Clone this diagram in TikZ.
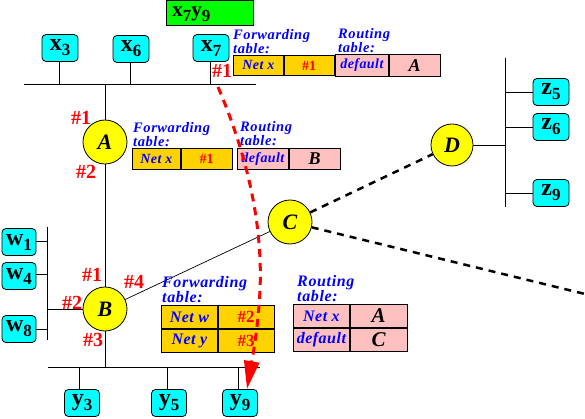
\documentclass[tikz,border=0pt]{standalone}
\usepackage{fontspec}
\setmainfont{Liberation Serif}
\newfontfamily\tfont{Liberation Serif}[LetterSpace=4]
\newfontfamily\cfont{Liberation Serif}[LetterSpace=3]
\usetikzlibrary{arrows.meta}
\definecolor{hostc}{HTML}{00FFFF}
\definecolor{rtrc}{HTML}{FFFF00}
\definecolor{goldc}{HTML}{FFD200}
\definecolor{pinkc}{HTML}{FFC0C0}
\definecolor{greenc}{HTML}{00FF00}
\definecolor{blu}{HTML}{0000FF}
\definecolor{redc}{HTML}{FF0000}
\newcommand\hl[2]{#1\raisebox{-5pt}{\fontsize{17}{17}\selectfont #2}}
\begin{document}
\begin{tikzpicture}[x=1pt,y=-1pt,
 host/.style={draw, fill=hostc, rounded corners=4pt, minimum width=36pt, minimum height=27pt, inner sep=0pt, font=\fontsize{24}{24}\selectfont\bfseries, line width=0.8pt},
 rtr/.style={circle, draw, fill=rtrc, minimum size=44pt, inner sep=0pt, line width=0.8pt, font=\fontsize{22}{22}\selectfont\bfseries\itshape},
 port/.style={text=redc, font=\fontsize{20}{20}\selectfont\bfseries, inner sep=0pt},
 ttl/.style={text=blu, font=\tfont\fontsize{14.5}{12.5}\selectfont\bfseries\itshape, align=left, anchor=north west, inner sep=0pt},
 bigttl/.style={ttl, font=\tfont\fontsize{16}{13.5}\selectfont\bfseries\itshape},
 fcell/.style={draw, fill=goldc, anchor=north west, inner sep=0pt, line width=0.8pt},
 rcell/.style={draw, fill=pinkc, anchor=north west, inner sep=0pt, line width=0.8pt},
 net/.style={text=blu, font=\cfont\fontsize{14}{14}\selectfont\bfseries\itshape},
 bignet/.style={text=blu, font=\cfont\fontsize{16}{16}\selectfont\bfseries\itshape},
 num/.style={text=redc, font=\fontsize{14}{14}\selectfont\bfseries},
 bignum/.style={text=redc, font=\fontsize{17}{17}\selectfont\bfseries},
 hop/.style={text=black, font=\fontsize{18}{18}\selectfont\bfseries\itshape},
 bighop/.style={text=black, font=\fontsize{21}{21}\selectfont\bfseries\itshape},
 wire/.style={line width=0.9pt},
 bdash/.style={line width=2.5pt, dash pattern=on 7pt off 6pt},
 rdash/.style={draw=redc, line width=3pt, dash pattern=on 8pt off 6pt}
]
\useasboundingbox (0,0) rectangle (585,419);

% source/destination box
\node[draw, fill=greenc, anchor=north west, minimum height=25pt, text width=75pt, text height=12.5pt, text depth=6.5pt, inner xsep=6pt, inner ysep=0pt, align=left, line width=0.8pt, font=\fontsize{21}{21}\selectfont\bfseries] (sd) at (166,0.5) {\hl{x}{7}\hl{y}{9}};

% hosts
\node[host] (x3) at (60,48) {\hl{x}{3}};
\node[host] (x6) at (131,49) {\hl{x}{6}};
\node[host] (x7) at (211,48) {\hl{x}{7}};
\node[host, minimum width=34pt] (w1) at (19,242) {\hl{w}{1}};
\node[host, minimum width=34pt] (w4) at (19,276) {\hl{w}{4}};
\node[host, minimum width=34pt] (w8) at (19,329) {\hl{w}{8}};
\node[host, minimum width=35pt] (y3) at (82,403) {\hl{y}{3}};
\node[host, minimum width=35pt] (y5) at (169,403) {\hl{y}{5}};
\node[host, minimum width=35pt] (y9) at (240,403) {\hl{y}{9}};
\node[host] (z5) at (551,92) {\hl{z}{5}};
\node[host] (z6) at (551,127) {\hl{z}{6}};
\node[host] (z9) at (551,193) {\hl{z}{9}};

% routers
\node[rtr] (A) at (105,142) {A};
\node[rtr] (B) at (105,309) {B};
\node[rtr] (C) at (290,222) {C};
\node[rtr, minimum size=42pt] (D) at (452,145) {D};

% buses
\coordinate (tbL) at (24,84);
\coordinate (tbR) at (256,84);
\draw[wire] (tbL) -- (tbR);
\draw[wire] ([xshift=-1pt]x3.south) -- ([xshift=-1pt]x3.south |- tbL);
\draw[wire] ([xshift=-1pt]x6.south) -- ([xshift=-1pt]x6.south |- tbL);
\draw[wire] ([xshift=-1pt]x7.south) -- ([xshift=-1pt]x7.south |- tbL);
\draw[wire] (A.north) -- (A.north |- tbL);
\draw[wire] (A.south) -- (B.north);

\coordinate (wT) at (47,227);
\coordinate (wB) at (47,340);
\draw[wire] (wT) -- (wB);
\draw[wire] ([yshift=1pt]w1.east) -- ([yshift=1pt]w1.east -| wT);
\draw[wire] ([yshift=2pt]w4.east) -- ([yshift=2pt]w4.east -| wT);
\draw[wire] (w8.east) -- (w8.east -| wT);
\draw[wire] (B.west) -- (B.west -| wT);

\coordinate (bL) at (48,367);
\coordinate (bR) at (260,367);
\draw[wire] (bL) -- (bR);
\draw[wire] (B.south) -- (B.south |- bL);
\draw[wire] ([xshift=-3pt]y3.north) -- ([xshift=-3pt]y3.north |- bL);
\draw[wire] ([xshift=-2pt]y5.north) -- ([xshift=-2pt]y5.north |- bL);
\draw[wire] ([xshift=-2pt]y9.north) -- ([xshift=-2pt]y9.north |- bL);

\coordinate (zT) at (505,58);
\coordinate (zB) at (505,207);
\draw[wire] (zT) -- (zB);
\draw[wire] (D.east) -- (D.east -| zT);
\draw[wire] (z5.west) -- (z5.west -| zT);
\draw[wire] (z6.west) -- (z6.west -| zT);
\draw[wire] (z9.west) -- (z9.west -| zT);

% links between routers
\draw[line width=0.7pt] (B) -- (C);
\draw[bdash] (C) -- (D);
\coordinate (cr) at (585,294);
\draw[bdash] (C) -- (cr);

% port labels
\node[port] (p7) at (222,71) {\#1};
\node[port] (pa1) at (81,118) {\#1};
\node[port] (pa2) at (86,172) {\#2};
\node[port] (pb1) at (92,275) {\#1};
\node[port] (pb4) at (134,282) {\#4};
\node[port] (pb2) at (72,303) {\#2};
\node[port] (pb3) at (93,340) {\#3};

% tables at x7
\node[ttl] (t7f) at (233,29) {Forwarding\\table:};
\node[fcell, net, minimum width=50pt, minimum height=20pt] (f7a) at (233,55) {Net x};
\node[fcell, num, minimum width=50pt, minimum height=20pt] (f7b) at (f7a.north east) {\#1};
\node[ttl] (t7r) at (338,28) {Routing\\table:};
\node[rcell, net, minimum width=53pt, minimum height=22pt] (r7a) at (335,54) {default};
\node[rcell, hop, minimum width=51pt, minimum height=22pt] (r7b) at (r7a.north east) {A};

% tables at A
\node[ttl] (tAf) at (133,122) {Forwarding\\table:};
\node[fcell, net, minimum width=48pt, minimum height=21pt] (fAa) at (132,148) {Net x};
\node[fcell, num, minimum width=51pt, minimum height=21pt] (fAb) at (fAa.north east) {\#1};
\node[ttl] (tAr) at (240,121) {Routing\\table:};
\node[rcell, net, minimum width=51pt, minimum height=21pt] (rAa) at (237,148) {default};
\node[rcell, hop, minimum width=51pt, minimum height=21pt] (rAb) at (rAa.north east) {B};

% tables at B
\node[bigttl] (tBf) at (162,276) {Forwarding\\table:};
\node[fcell, bignet, minimum width=56pt, minimum height=23pt] (fBa) at (161,305) {Net w};
\node[fcell, bignum, minimum width=56pt, minimum height=23pt] (fBb) at (fBa.north east) {\#2};
\node[fcell, bignet, minimum width=56pt, minimum height=23pt] (fBc) at (fBa.south west) {Net y};
\node[fcell, bignum, minimum width=56pt, minimum height=23pt] (fBd) at (fBc.north east) {\#3};

% tables at C
\node[bigttl] (tCr) at (297,275) {Routing\\table:};
\node[rcell, bignet, minimum width=56pt, minimum height=23pt] (rCa) at (293,304) {Net x};
\node[rcell, bighop, minimum width=57pt, minimum height=23pt] (rCb) at (rCa.north east) {A};
\node[rcell, bignet, minimum width=56pt, minimum height=23pt] (rCc) at (rCa.south west) {default};
\node[rcell, bighop, minimum width=57pt, minimum height=23pt] (rCd) at (rCc.north east) {C};

% packet path
\coordinate (rs) at (218,87);
\coordinate (ae) at (247,389);
\draw[rdash, -{Triangle[length=28pt,width=15pt,fill=redc]}] (rs) .. controls (245,150) and (263,220) .. (260,290) .. controls (258,330) and (252,360) .. (ae);
\end{tikzpicture}
\end{document}
